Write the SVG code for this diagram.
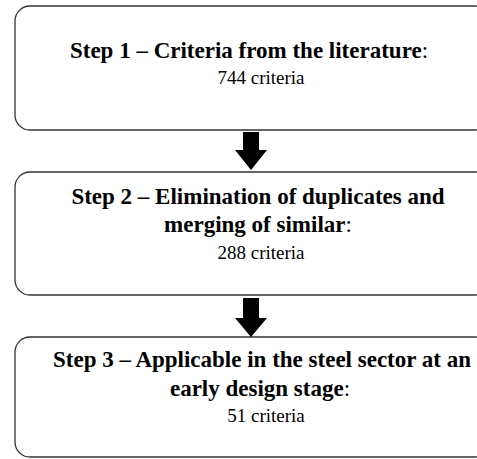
<svg xmlns="http://www.w3.org/2000/svg" width="477" height="459" viewBox="0 0 477 459">
<style>
.box{fill:#fff;stroke:#333;stroke-width:1.3}
.t{font-family:"Liberation Serif","Times New Roman",serif;font-size:23px;font-weight:bold;fill:#000;text-anchor:middle}
.c{font-family:"Liberation Serif","Times New Roman",serif;font-size:19px;fill:#000;text-anchor:middle}
.arrow{fill:#000}
</style>
<rect width="477" height="459" fill="#fff"/>
<g id="step1">
<rect class="box" x="15" y="6" width="475" height="124" rx="15"/>
<text class="t" x="249" y="58">Step 1 – Criteria from the literature<tspan font-weight="normal">:</tspan></text>
<text class="c" x="261" y="84">744 criteria</text>
</g>
<g id="step2">
<rect class="box" x="15" y="172" width="475" height="123" rx="15"/>
<text class="t" x="258" y="204">Step 2 – Elimination of duplicates and</text>
<text class="t" x="258" y="232">merging of similar<tspan font-weight="normal">:</tspan></text>
<text class="c" x="261" y="259">288 criteria</text>
</g>
<g id="step3">
<rect class="box" x="15" y="337" width="475" height="120" rx="15"/>
<text class="t" x="262" y="367">Step 3 – Applicable in the steel sector at an</text>
<text class="t" x="260" y="396">early design stage<tspan font-weight="normal">:</tspan></text>
<text class="c" x="266" y="422">51 criteria</text>
</g>
<g id="connectors">
<polygon class="arrow" points="243,132 259,132 259,150 267,150 251,170 235,150 243,150"/>
<polygon class="arrow" points="243,298 259,298 259,318 267,318 251,337 235,318 243,318"/>
</g>
</svg>
